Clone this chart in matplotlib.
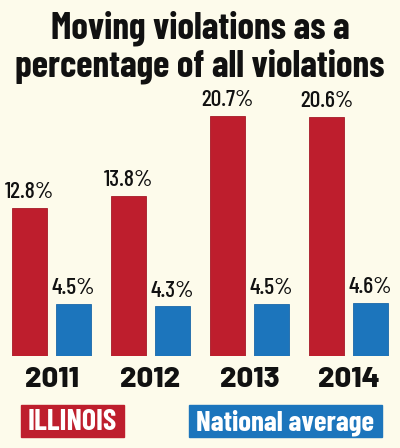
import matplotlib
matplotlib.use("Agg")
import matplotlib.pyplot as plt
from matplotlib.patches import Rectangle

anos = ["2011", "2012", "2013", "2014"]
illinois = [12.8, 13.8, 20.7, 20.6]
nacional = [4.5, 4.3, 4.5, 4.6]
legenda = ["ILLINOIS", "National average"]

fundo = "#FDFBEB"
vermelho = "#BE1E2D"
azul = "#1C75BC"
cond = ["Barlow Condensed", "DejaVu Sans"]
W, H = 400, 448

fig = plt.figure(figsize=(W / 100, H / 100), dpi=100, facecolor=fundo)
ax = fig.add_axes([0, 92 / H, 1, 256 / H])
ax.set_facecolor(fundo)
ax.axis("off")
ax.set_xlim(-0.52, 3.52)
ax.set_ylim(0, 256 / 11.6)

x = range(len(anos))
larg = 0.354
desl = 0.22
b1 = ax.bar([i - desl for i in x], illinois, larg, color=vermelho, edgecolor="#a51a27", linewidth=0.6)
b2 = ax.bar([i + desl for i in x], nacional, larg, color=azul, edgecolor="#1a68a8", linewidth=0.6)

for barras, vals in [(b1, illinois), (b2, nacional)]:
    for b, v in zip(barras, vals):
        ax.annotate(f"{v}%", (b.get_x() + b.get_width() / 2, v), xytext=(0, 4),
                    textcoords="offset points", ha="center", va="bottom",
                    fontsize=17, family=cond, fontweight="medium", color="#111111")

for i, a in enumerate(anos):
    fig.text((51.5 + 99 * i) / W, 1 - 387 / H, a, ha="center", va="baseline",
             fontsize=21, fontweight="heavy", family=["Barlow", "DejaVu Sans"],
             color="#111111")

r = fig.canvas.get_renderer()


def ajusta(t, largura):
    # muda o tamanho da fonte ate o texto ter a largura pedida
    w = t.get_window_extent(r).width
    t.set_fontsize(t.get_fontsize() * largura / w)


# titulo em duas linhas
t1 = fig.text(0.5, 1 - 39 / H, "Moving violations as a", ha="center", va="baseline",
              fontsize=30, fontweight="bold", family=cond, color="#111111")
t2 = fig.text(0.5, 1 - 76 / H, "percentage of all violations", ha="center", va="baseline",
              fontsize=30, fontweight="bold", family=cond, color="#111111")
ajusta(t2, 370)
t1.set_fontsize(t2.get_fontsize())

# legenda
caixas = [(21, 124, vermelho, 89), (189, 382, azul, 178)]
for (x0, x1, cor, lt), txt in zip(caixas, legenda):
    fig.patches.append(Rectangle((x0 / W, 1 - 437 / H), (x1 - x0) / W, 32 / H,
                                 transform=fig.transFigure, color=cor, zorder=1))
    t = fig.text((x0 + x1) / 2 / W, 1 - 430 / H, txt, ha="center", va="baseline",
                 fontsize=18, fontweight="bold", family=cond, color="white", zorder=2)
    ajusta(t, lt)

plt.savefig("out.png", dpi=100, facecolor=fundo)
